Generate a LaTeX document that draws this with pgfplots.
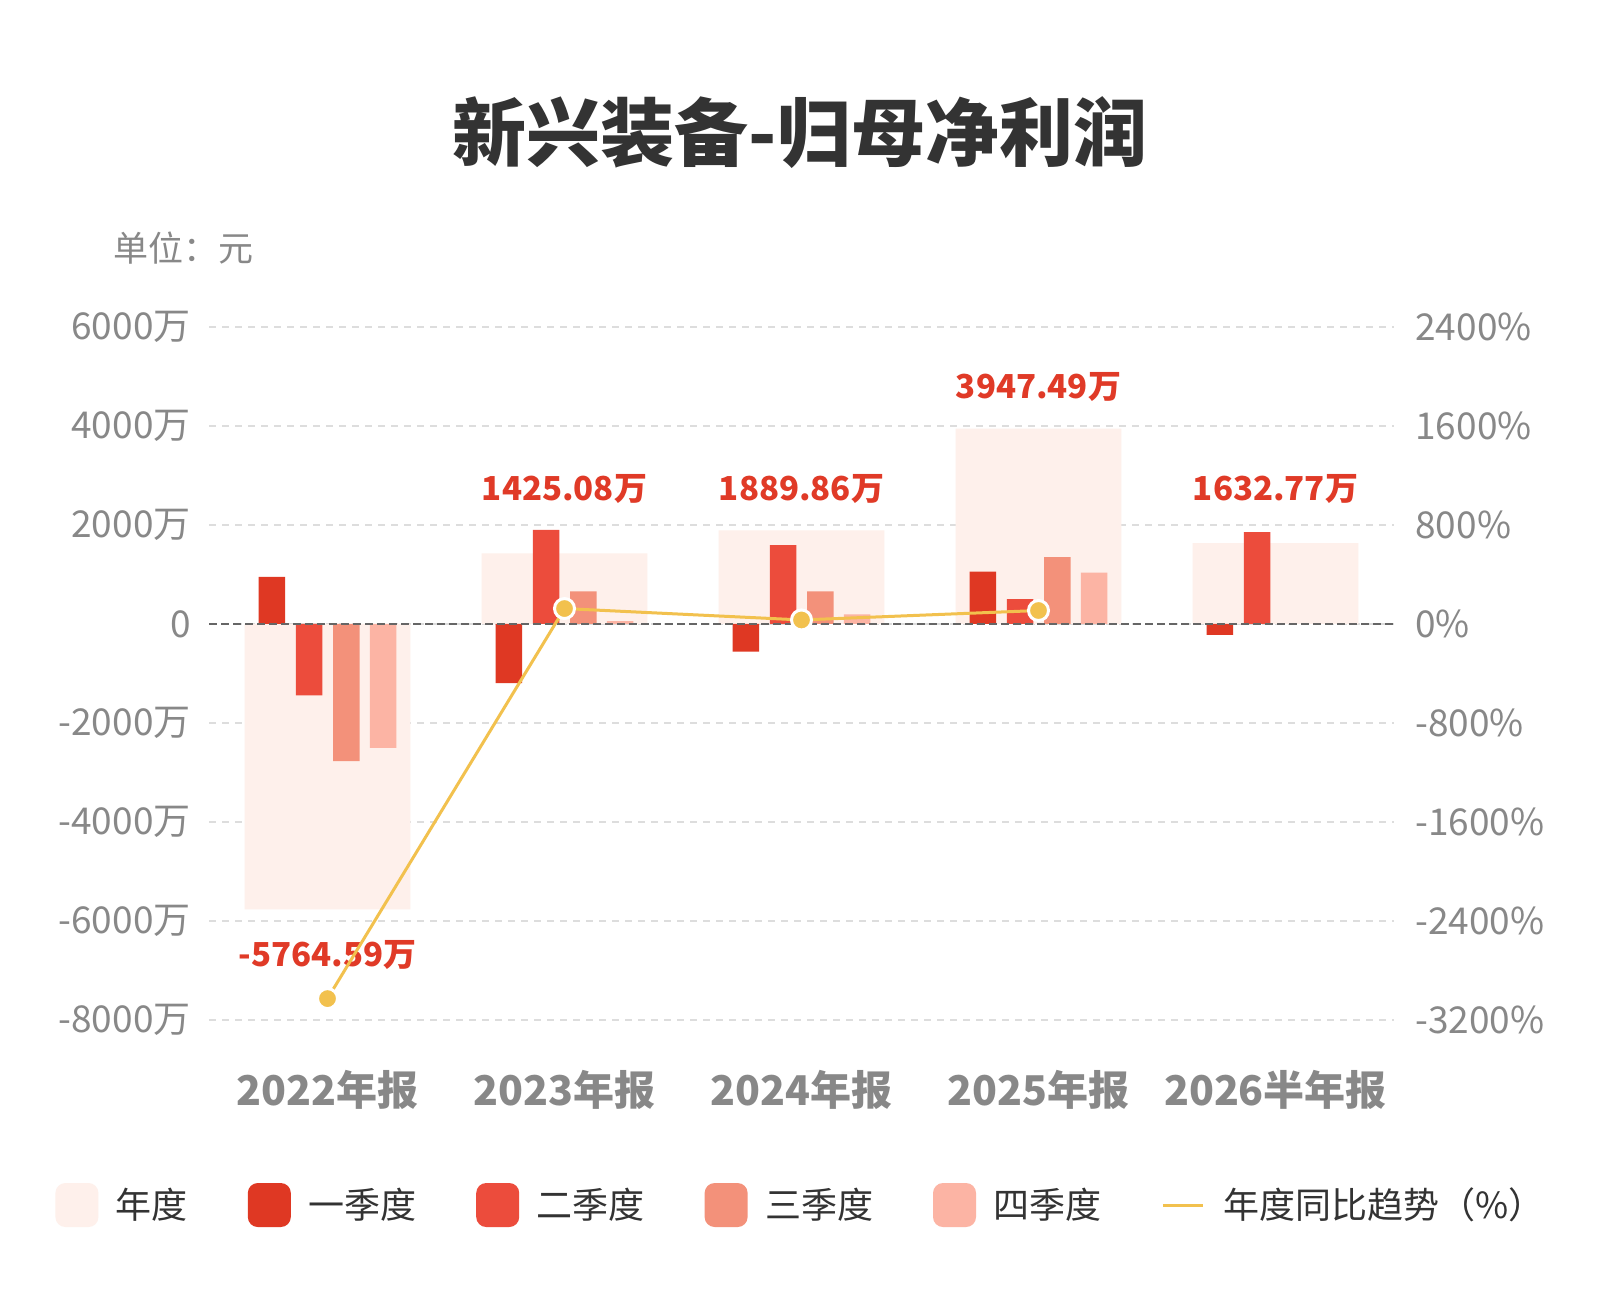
\documentclass[border=0pt]{standalone}
\usepackage{pgfplots}
\pgfplotsset{compat=1.18}
\usepackage{fontspec}
\setmainfont{Noto Sans CJK SC}
\definecolor{annual}{HTML}{FEF0EB}
\definecolor{qa}{HTML}{DF3823}
\definecolor{qb}{HTML}{EC4C3C}
\definecolor{qc}{HTML}{F3917A}
\definecolor{qd}{HTML}{FCB4A4}
\definecolor{yoy}{HTML}{F2C14E}
\definecolor{lbl}{HTML}{888888}
\definecolor{valred}{HTML}{E03A27}
\definecolor{titlec}{HTML}{333333}
\definecolor{gridc}{HTML}{DDDDDD}
\definecolor{zeroc}{HTML}{666666}
\pgfplotsset{
  swatch/.style={legend image code/.code={%
    \fill[##1, rounded corners=5pt] (0pt,-11pt) rectangle (21.5pt,11pt);
    \path (28.2pt,0pt);}},
}
\begin{document}
\begin{tikzpicture}[x=1pt,y=1pt]
\useasboundingbox[fill=white] (0,0) rectangle (800,650);
\node[font=\fontsize{37}{40}\selectfont\bfseries, text=titlec] at (400,583.5) {新兴装备-归母净利润};
\node[anchor=west, font=\fontsize{17.5}{19}\selectfont, text=lbl] at (53,526) {单位：元};

\begin{axis}[
  at={(104.5pt,140pt)}, anchor=south west, scale only axis,
  width=592.5pt, height=346.5pt,
  xmin=-0.5, xmax=4.5, ymin=-8000, ymax=6000,
  axis line style={draw=none}, major tick length=0pt,
  xtick={0,1,2,3,4},
  xticklabels={2022年报,2023年报,2024年报,2025年报,2026半年报},
  xticklabel style={font=\fontsize{20.5}{24}\selectfont\bfseries, text=lbl, anchor=center, yshift=-35pt},
  ytick={-8000,-6000,-4000,-2000,0,2000,4000,6000},
  yticklabels={-8000万,-6000万,-4000万,-2000万,0,2000万,4000万,6000万},
  yticklabel style={font=\fontsize{18.5}{20}\selectfont, text=lbl, anchor=east, inner sep=0pt, xshift=-9pt},
  ymajorgrids, grid style={draw=gridc, line width=0.75pt, dash pattern=on 3.5pt off 3pt},
  legend columns=6,
  legend style={at={(0.5004,-0.267)}, anchor=center, draw=none, fill=none,
    font=\fontsize{18}{20}\selectfont, text=titlec, inner sep=0pt,
    /tikz/every even column/.append style={column sep=28pt}},
]
\addplot[ybar, bar width=0.70, bar shift=0pt, fill=annual, draw=none, swatch]
  coordinates {(0,-5764.59) (1,1425.08) (2,1889.86) (3,3947.49) (4,1632.77)};
\addlegendentry{年度}
\addplot[ybar, bar width=0.112, bar shift=0pt, fill=qa, draw=none, swatch]
  coordinates {(-0.235,950) (0.765,-1193) (1.765,-556) (2.765,1058) (3.765,-222)};
\addlegendentry{一季度}
\addplot[ybar, bar width=0.112, bar shift=0pt, fill=qb, draw=none, swatch]
  coordinates {(-0.0775,-1440) (0.9225,1900) (1.9225,1595) (2.9225,500) (3.9225,1855)};
\addlegendentry{二季度}
\addplot[ybar, bar width=0.112, bar shift=0pt, fill=qc, draw=none, swatch]
  coordinates {(0.08,-2770) (1.08,658) (2.08,658) (3.08,1350)};
\addlegendentry{三季度}
\addplot[ybar, bar width=0.112, bar shift=0pt, fill=qd, draw=none, swatch]
  coordinates {(0.235,-2505) (1.235,60) (2.235,193) (3.235,1040)};
\addlegendentry{四季度}
\addlegendimage{legend image code/.code={\draw[yoy, line width=1.5pt] (0pt,0pt) -- (20pt,0pt); \path (28pt,0pt);}}
\addlegendentry{年度同比趋势（\%）}
\draw[zeroc, line width=1pt, dash pattern=on 4pt off 2pt] (axis cs:-0.5,0) -- (axis cs:4.5,0);
\node[font=\fontsize{16.5}{20}\selectfont\bfseries, text=valred] at (axis cs:0,-6688) {-5764.59万};
\node[font=\fontsize{16.5}{20}\selectfont\bfseries, text=valred] at (axis cs:1,2737) {1425.08万};
\node[font=\fontsize{16.5}{20}\selectfont\bfseries, text=valred] at (axis cs:2,2737) {1889.86万};
\node[font=\fontsize{16.5}{20}\selectfont\bfseries, text=valred] at (axis cs:3,4795) {3947.49万};
\node[font=\fontsize{16.5}{20}\selectfont\bfseries, text=valred] at (axis cs:4,2737) {1632.77万};
\end{axis}

\begin{axis}[
  at={(104.5pt,140pt)}, anchor=south west, scale only axis,
  width=592.5pt, height=346.5pt,
  xmin=-0.5, xmax=4.5, ymin=-3200, ymax=2400,
  axis y line*=right, hide x axis,
  axis line style={draw=none}, major tick length=0pt,
  ytick={-3200,-2400,-1600,-800,0,800,1600,2400},
  yticklabels={-3200\%,-2400\%,-1600\%,-800\%,0\%,800\%,1600\%,2400\%},
  yticklabel style={font=\fontsize{18.5}{20}\selectfont, text=lbl, anchor=west, inner sep=0pt, xshift=10.5pt},
]
\addplot[yoy, line width=1.5pt, mark=*, mark size=5pt,
  mark options={fill=yoy, draw=white, line width=1.5pt}]
  coordinates {(0,-3027) (1,124.7) (2,32.6) (3,108.9)};
\end{axis}
\end{tikzpicture}
\end{document}
